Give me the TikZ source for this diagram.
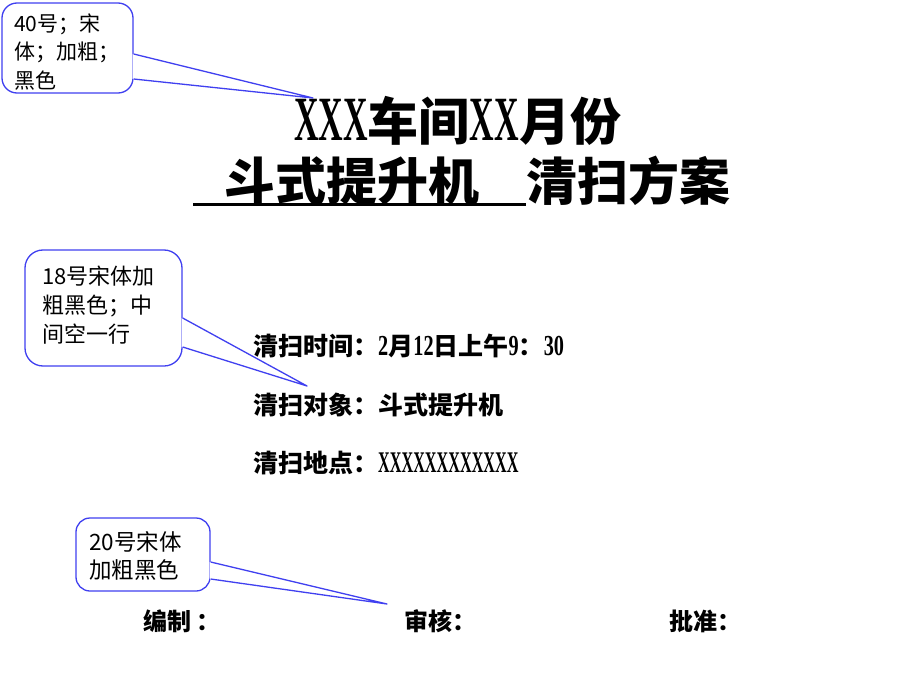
\documentclass[tikz,border=0pt]{standalone}
\usepackage{fontspec}
\setmainfont{Noto Sans CJK SC}
\newfontfamily\latinserif[FakeStretch=0.7]{Liberation Serif}
\newfontfamily\latinnarrow[FakeStretch=0.54]{Liberation Serif}
\usetikzlibrary{calc}
\definecolor{noteblue}{RGB}{64,64,240}
\newcommand{\xs}[2]{{\latinnarrow\fontsize{#1}{#1}\selectfont #2}}
\newcommand{\nm}[1]{{\latinserif\fontsize{29}{29}\selectfont #1}}
\newcommand{\notetail}[4]{%
  \fill[white] ($(#1.east)+(-1,#2)$) -- (#4) -- ($(#1.east)+(-1,#3)$) -- cycle;
  \draw[tail] ($(#1.east)+(0,#2)$) -- (#4) -- ($(#1.east)+(0,#3)$);}
\tikzset{
    note/.style = {draw=noteblue, line width=1.3pt, fill=white, inner sep=0pt},
    tail/.style = {draw=noteblue, line width=1.3pt, line join=round},
    notetext/.style = {anchor=base west, inner sep=0pt, align=left, font=\fontsize{21}{28.5}\selectfont},
    titletext/.style = {anchor=base west, inner sep=0pt, font=\fontsize{51}{51}\selectfont\bfseries},
    bodytext/.style = {anchor=base west, inner sep=0pt, font=\fontsize{25}{25}\selectfont\bfseries},
    signtext/.style = {anchor=base west, inner sep=0pt, font=\fontsize{24}{24}\selectfont\bfseries}}
\begin{document}
\begin{tikzpicture}[x=1pt,y=-1pt]
    \fill[white] (0,0) rectangle (920,690);
    \useasboundingbox (0,0) rectangle (920,690);
    \path (294,140) node[titletext] (title1) {\xs{63}{XXX}车间\xs{63}{XX}月份}
        (193,200) node[titletext] (subject) {\hspace*{31pt}斗式提升机\hspace*{47pt}}
        (subject.base east) node[titletext] (plan) {清扫方案};
    \draw[line width=3pt] ($(subject.base west)+(0,4.5)$) -- ($(subject.base east)+(0,4.5)$);
    \path (253,355) node[bodytext] (time) {清扫时间：\nm{2}月\nm{12}日上午\nm{9}：\nm{30}}
        (253,414) node[bodytext] (object) {清扫对象：斗式提升机}
        (253,472) node[bodytext] (place) {清扫地点：\xs{30}{XXXXXXXXXXXX}}
        (143,630) node[signtext] (editor) {编制 ：}
        (404,630) node[signtext] (checker) {审核：}
        (669,630) node[signtext] (approver) {批准：};
    \node[note, rounded corners=15pt, minimum width=131pt, minimum height=90pt] (note40) at (67.5,48) {};
    \node[note, rounded corners=18pt, minimum width=157pt, minimum height=116pt] (note18) at (103.5,308) {};
    \node[note, rounded corners=14pt, minimum width=134pt, minimum height=73pt] (note20) at (143,554.5) {};
    \coordinate (tip40) at (313,98);
    \coordinate (tip18) at (307,386);
    \coordinate (tip20) at (387,604);
    \notetail{note40}{6}{31}{tip40}
    \notetail{note18}{10}{39}{tip18}
    \notetail{note20}{7.5}{24.5}{tip20}
    \node[notetext] (note40text) at (14,88.5) {40号；宋\\体；加粗；\\黑色};
    \node[notetext, font=\fontsize{22}{29}\selectfont] (note18text) at (42,342) {18号宋体加\\粗黑色；中\\间空一行};
    \node[notetext, font=\fontsize{22.5}{28}\selectfont] (note20text) at (89,578) {20号宋体\\加粗黑色};
\end{tikzpicture}
\end{document}
